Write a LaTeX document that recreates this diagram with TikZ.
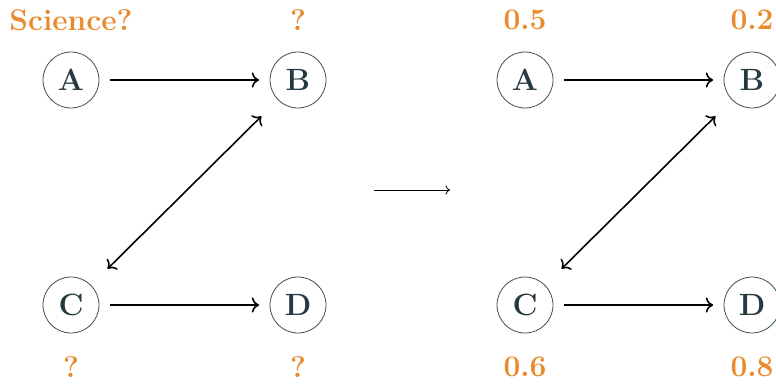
\documentclass[tikz,border=0pt]{standalone}
\usepackage{xcolor}
\usepackage{tikz}
\usetikzlibrary{positioning, arrows.meta, calc}

\definecolor{valorange}{HTML}{E98A2C}
\definecolor{nodeink}{HTML}{253A40}

\begin{document}
\begin{tikzpicture}[
    x=0.02cm, y=-0.02cm,
    var/.style={
        circle,
        draw=nodeink!90,
        line width=0.45pt,
        minimum size=1.12cm,
        inner sep=0pt,
        outer sep=0.22cm,
        text=nodeink,
        font=\fontsize{17.5}{20}\selectfont\bfseries
    },
    val/.style={text=valorange, font=\fontsize{17}{20}\selectfont\bfseries},
    edge/.style={-{To[scale=1.15]}, line width=0.9pt},
    both/.style={{To[scale=1.15]}-{To[scale=1.15]}, line width=0.9pt, shorten >=0.25cm, shorten <=0.25cm},
    map/.style={-To, line width=0.45pt}
]
\useasboundingbox (0,0) rectangle (776,385);

\def\xl{71}
\def\xr{298}
\def\dx{454}
\def\yt{80}
\def\yb{305}

% Left graph
\node[var] (a)  at (\xl, \yt) {A};
\node[var] (b)  at (\xr, \yt) {B};
\node[var] (c)  at (\xl, \yb) {C};
\node[var] (d)  at (\xr, \yb) {D};

\node[val] (la) at (\xl, 20)  {Science?};
\node[val] (lb) at (\xr, 20)  {?};
\node[val] (lc) at (\xl, 367) {?};
\node[val] (ld) at (\xr, 367) {?};

\draw[edge] (a) -- (b);
\draw[edge] (c) -- (d);
\draw[both] (b) -- (c);

% Mapping arrow
\coordinate (m1) at (374, 190);
\coordinate (m2) at (450, 190);
\draw[map] (m1) -- (m2);

% Right graph
\node[var] (a2) at (\xl+\dx, \yt) {A};
\node[var] (b2) at (\xr+\dx, \yt) {B};
\node[var] (c2) at (\xl+\dx, \yb) {C};
\node[var] (d2) at (\xr+\dx, \yb) {D};

\node[val] (la2) at (\xl+\dx, 20)  {0.5};
\node[val] (lb2) at (\xr+\dx, 20)  {0.2};
\node[val] (lc2) at (\xl+\dx, 367) {0.6};
\node[val] (ld2) at (\xr+\dx, 367) {0.8};

\draw[edge] (a2) -- (b2);
\draw[edge] (c2) -- (d2);
\draw[both] (b2) -- (c2);

\end{tikzpicture}
\end{document}
